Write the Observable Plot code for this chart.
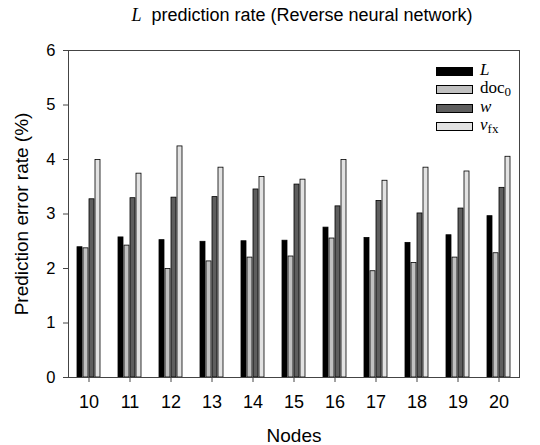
<!DOCTYPE html>
<html>
<head>
<meta charset="utf-8">
<script src="https://cdn.jsdelivr.net/npm/d3@7"></script>
<script src="https://cdn.jsdelivr.net/npm/@observablehq/plot@0.6"></script>
<style>
  body { margin: 0; background: #fff; }
  #wrap { position: relative; width: 540px; height: 445px; font-family: "Liberation Sans", Arial, sans-serif; }
  #title { height: 30px; box-sizing: border-box; padding-left: 64px; padding-top: 5px; text-align: center; font-size: 18px; line-height: 20px; color: #000; white-space: nowrap; }
  .serif { font-family: "Liberation Serif", "Times New Roman", serif; }
  #legend { position: absolute; left: 436px; top: 62px; font-family: "Liberation Serif", "Times New Roman", serif; font-size: 17px; color: #000; }
  .row { position: relative; height: 18.3px; }
  .sw { position: absolute; left: 0; top: 5px; width: 35px; height: 7px; border: 1px solid #000; }
  .lab { position: absolute; left: 44px; top: -1px; line-height: 18px; white-space: nowrap; }
  sub { font-size: 13px; vertical-align: -3px; line-height: 0; }
</style>
</head>
<body>
<div id="wrap">
  <div id="title"><i class="serif">L</i>&nbsp;&nbsp;prediction rate (Reverse neural network)</div>
  <div id="chart"></div>
  <div id="legend"></div>
</div>
<script>
const nodes = [10, 11, 12, 13, 14, 15, 16, 17, 18, 19, 20];
const seriesKeys = ["L", "doc0", "w", "vfx"];
const seriesLabels = ['<i>L</i>', 'doc<sub>0</sub>', '<i>w</i>', '<i>v</i><sub>fx</sub>'];
const seriesColors = ["#000000", "#c0c0c0", "#5e5e5e", "#e2e2e2"];
const valuesL    = [2.39, 2.57, 2.52, 2.49, 2.50, 2.51, 2.75, 2.56, 2.47, 2.61, 2.96];
const valuesDoc0 = [2.37, 2.42, 1.99, 2.13, 2.20, 2.22, 2.55, 1.95, 2.10, 2.20, 2.28];
const valuesW    = [3.27, 3.29, 3.30, 3.31, 3.45, 3.54, 3.14, 3.24, 3.01, 3.10, 3.48];
const valuesVfx  = [3.99, 3.74, 4.24, 3.85, 3.68, 3.63, 3.99, 3.61, 3.85, 3.78, 4.05];
const yTicks = [0, 1, 2, 3, 4, 5, 6];

const seriesValues = [valuesL, valuesDoc0, valuesW, valuesVfx];
const data = [];
nodes.forEach((n, i) => {
  seriesKeys.forEach((s, j) => data.push({node: n, series: s, value: seriesValues[j][i]}));
});

const chart = Plot.plot({
  width: 540,
  height: 415,
  marginLeft: 67,
  marginRight: 21,
  marginTop: 20,
  marginBottom: 68,
  style: {fontFamily: "'Liberation Sans', Arial, sans-serif", color: "#000", background: "#fff"},
  fx: {domain: nodes, padding: 0},
  x: {domain: seriesKeys, paddingInner: 0.25, paddingOuter: 1.44, axis: null},
  y: {domain: [0, 6]},
  color: {domain: seriesKeys, range: seriesColors},
  marks: [
    Plot.barY(data, {fx: "node", x: "series", y: "value", fill: "series", stroke: "#000", strokeWidth: 0.8}),
    Plot.frame({facet: "super", stroke: "#444"}),
    Plot.axisY({ticks: yTicks, tickFormat: d => String(d), tickSize: 5, tickPadding: 8, fontSize: 16.5, stroke: "#444",
      label: "Prediction error rate (%)", labelAnchor: "center", labelArrow: "none", labelOffset: 54}),
    Plot.axisFx({anchor: "bottom", tickSize: 5, tickPadding: 13, fontSize: 18, stroke: "#444",
      label: "Nodes", labelAnchor: "center", labelArrow: "none", labelOffset: 64})
  ]
});
document.getElementById("chart").appendChild(chart);
chart.querySelectorAll("[aria-label='y-axis label'] text, [aria-label='fx-axis label'] text").forEach(t => t.setAttribute("font-size", "19"));

const legend = document.getElementById("legend");
seriesKeys.forEach((s, j) => {
  const row = document.createElement("div");
  row.className = "row";
  row.innerHTML = `<div class="sw" style="background:${seriesColors[j]}"></div><div class="lab">${seriesLabels[j]}</div>`;
  legend.appendChild(row);
});
</script>
</body>
</html>
